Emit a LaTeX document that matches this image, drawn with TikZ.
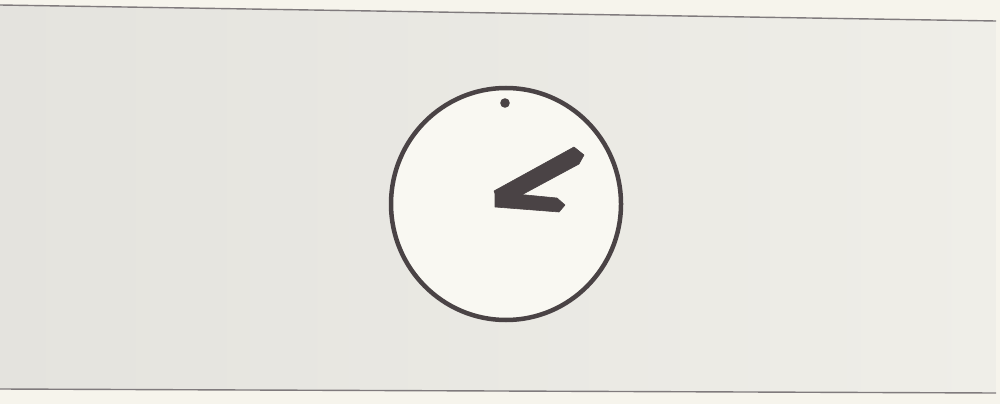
\documentclass[tikz,border=0pt]{standalone}
\usepackage{xcolor}
\usepackage{tikz}
\usetikzlibrary{calc}

\definecolor{paper}{HTML}{F6F4EC}
\definecolor{panelL}{HTML}{E4E3DE}
\definecolor{panelR}{HTML}{EFEEE8}
\definecolor{face}{HTML}{F9F8F2}
\definecolor{ink}{HTML}{4A4345}

\begin{document}
\begin{tikzpicture}[x=1pt,y=-1pt,
  rim/.style={draw=ink,line width=4.5pt,fill=face},
  edge/.style={draw=ink!70,line width=1.4pt},
  hand/.style={fill=ink,draw=ink,line width=0.6pt,line join=round}]
\useasboundingbox (0,0) rectangle (1000,404);
\fill[paper] (0,0) rectangle (1000,404);
% panel of the page
\shade[left color=panelL,right color=panelR] (0,5) -- (996,21) -- (996,393) -- (0,389) -- cycle;
\draw[edge] (0,5) -- (996,21);
\draw[edge] (0,389) -- (996,393);
% the clock
\coordinate (C) at (506,204);
\draw[rim] (C) ellipse (115 and 116);
\fill[ink] (505,103) circle (4.8);
% minute hand
\path[hand] (494,191) -- (574,147) -- (584,155) -- (579,164) -- (501,206) -- cycle;
% hour hand
\path[hand] (495,192) -- (557,198) -- (565,205) -- (559,212) -- (495,207) -- cycle;
\end{tikzpicture}
\end{document}
